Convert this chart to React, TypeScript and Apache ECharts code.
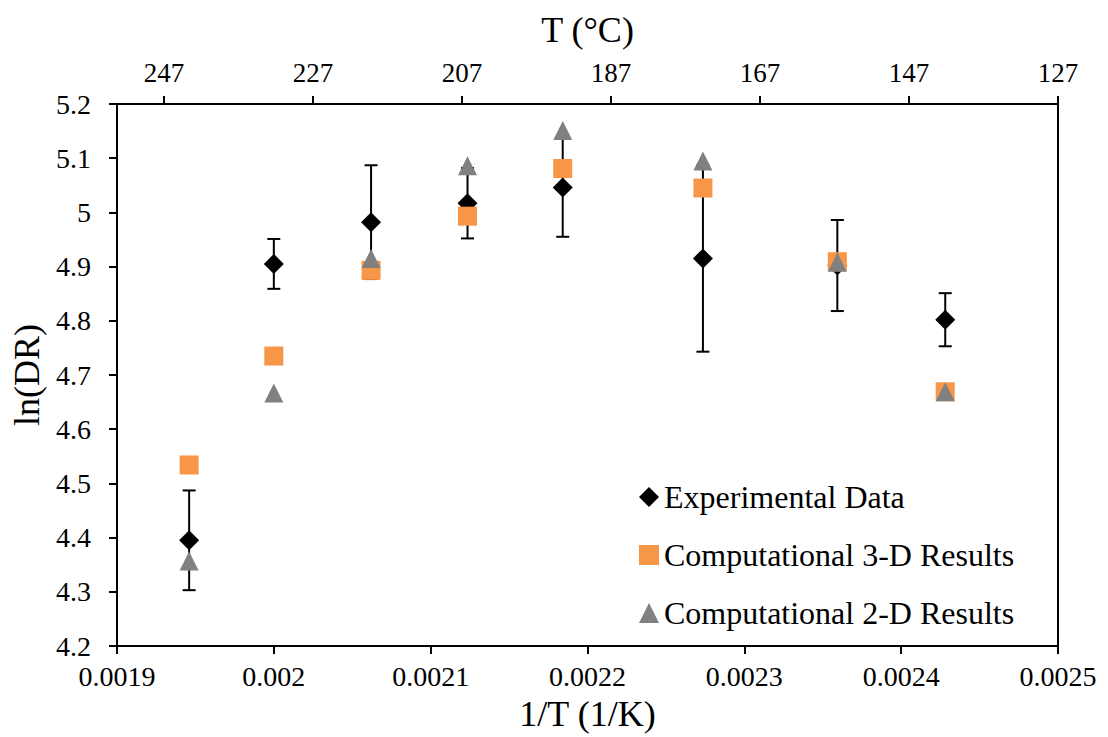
import React, { useEffect, useRef } from "react";
import * as echarts from "echarts";

// 1/T (1/K) positions of the measurements
const invT = [0.001946, 0.002, 0.002062, 0.0021235, 0.0021842, 0.0022736, 0.0023593, 0.0024281];
// Experimental ln(DR) and its error (±)
const expY = [4.395, 4.905, 4.982, 5.017, 5.046, 4.915, 4.902, 4.802];
const expErr = [0.092, 0.046, 0.105, 0.065, 0.091, 0.172, 0.084, 0.049];
// Computational results
const comp3D = [4.534, 4.735, 4.893, 4.993, 5.081, 5.045, 4.909, 4.669];
const comp2D = [4.357, 4.667, 4.915, 5.086, 5.151, 5.095, 4.908, 4.669];

const seriesNames = ["Experimental Data", "Computational 3-D Results", "Computational 2-D Results"];

const FONT = "Liberation Serif";

export default function App() {
  const ref = useRef<HTMLDivElement>(null);
  useEffect(() => {
    if (!ref.current) return;
    const chart = echarts.init(ref.current, undefined, { renderer: "svg" });
    const pts = (ys: number[]) => invT.map((x, i) => [x, ys[i]]);
    const errData = invT.map((x, i) => [x, expY[i] - expErr[i], expY[i] + expErr[i]]);
    chart.setOption({
      animation: false,
      backgroundColor: "#fff",
      textStyle: { fontFamily: FONT, color: "#000" },
      grid: {
        left: 117,
        top: 104,
        width: 941,
        height: 544,
        show: true,
        borderColor: "#000",
        borderWidth: 2,
        backgroundColor: "transparent",
      },
      legend: {
        orient: "vertical",
        left: 639,
        top: 481,
        padding: 0,
        itemWidth: 20,
        itemHeight: 20,
        itemGap: 26,
        data: seriesNames,
        textStyle: { fontFamily: FONT, fontSize: 32, color: "#000" },
      },
      xAxis: [
        {
          type: "value",
          position: "bottom",
          min: 0.0019,
          max: 0.0025,
          interval: 0.0001,
          name: "1/T (1/K)",
          nameLocation: "middle",
          nameGap: 50,
          nameTextStyle: { fontFamily: FONT, fontSize: 36, color: "#000" },
          axisLine: { show: true, onZero: false, lineStyle: { color: "#000", width: 2 } },
          axisTick: { show: true, length: 8, lineStyle: { color: "#000", width: 2 } },
          axisLabel: {
            margin: 16,
            fontFamily: FONT,
            fontSize: 28,
            color: "#000",
            formatter: (v: number) => String(parseFloat(v.toFixed(4))),
          },
          splitLine: { show: false },
        },
        {
          type: "value",
          position: "top",
          min: 126.85,
          max: 253.15,
          interval: 20,
          inverse: true,
          name: "T (°C)",
          nameLocation: "middle",
          nameGap: 56,
          nameTextStyle: { fontFamily: FONT, fontSize: 36, color: "#000" },
          axisLine: { show: true, onZero: false, lineStyle: { color: "#000", width: 2 } },
          axisTick: { show: true, length: 8, lineStyle: { color: "#000", width: 2 } },
          axisLabel: {
            margin: 18,
            fontFamily: FONT,
            fontSize: 27,
            color: "#000",
            showMaxLabel: false,
            formatter: (v: number) => String(Math.round(v)),
          },
          splitLine: { show: false },
        },
      ],
      yAxis: {
        type: "value",
        min: 4.2,
        max: 5.2,
        interval: 0.1,
        name: "ln(DR)",
        nameLocation: "middle",
        nameGap: 71,
        nameTextStyle: { fontFamily: FONT, fontSize: 36, color: "#000" },
        axisLine: { show: true, onZero: false, lineStyle: { color: "#000", width: 2 } },
        axisTick: { show: true, length: 8, lineStyle: { color: "#000", width: 2 } },
        axisLabel: {
          margin: 26,
          fontFamily: FONT,
          fontSize: 28,
          color: "#000",
          formatter: (v: number) => String(parseFloat(v.toFixed(1))),
        },
        splitLine: { show: false },
      },
      series: [
        {
          type: "custom",
          name: "error",
          xAxisIndex: 0,
          yAxisIndex: 0,
          z: 1,
          silent: true,
          data: errData,
          encode: { x: 0, y: [1, 2] },
          renderItem: (_params: any, api: any) => {
            const lo = api.coord([api.value(0), api.value(1)]);
            const hi = api.coord([api.value(0), api.value(2)]);
            const cw = 6.5;
            const st = { stroke: "#000", lineWidth: 2 };
            return {
              type: "group",
              children: [
                { type: "line", shape: { x1: lo[0], y1: lo[1], x2: hi[0], y2: hi[1] }, style: st },
                { type: "line", shape: { x1: lo[0] - cw, y1: lo[1], x2: lo[0] + cw, y2: lo[1] }, style: st },
                { type: "line", shape: { x1: hi[0] - cw, y1: hi[1], x2: hi[0] + cw, y2: hi[1] }, style: st },
              ],
            };
          },
        },
        {
          type: "scatter",
          name: seriesNames[0],
          xAxisIndex: 0,
          z: 2,
          symbol: "diamond",
          symbolSize: 20,
          itemStyle: { color: "#000", opacity: 1 },
          data: pts(expY),
        },
        {
          type: "scatter",
          name: seriesNames[1],
          xAxisIndex: 0,
          z: 3,
          symbol: "rect",
          symbolSize: 19,
          itemStyle: { color: "#F79646", opacity: 1 },
          data: pts(comp3D),
        },
        {
          type: "scatter",
          name: seriesNames[2],
          xAxisIndex: 0,
          z: 4,
          symbol: "triangle",
          symbolSize: 19,
          itemStyle: { color: "#808080", opacity: 1 },
          data: pts(comp2D),
        },
      ],
    });
    return () => chart.dispose();
  }, []);
  return (
    <div
      ref={ref}
      style={{ position: "fixed", left: 0, top: 0, width: 1108, height: 737, background: "#fff" }}
    />
  );
}
